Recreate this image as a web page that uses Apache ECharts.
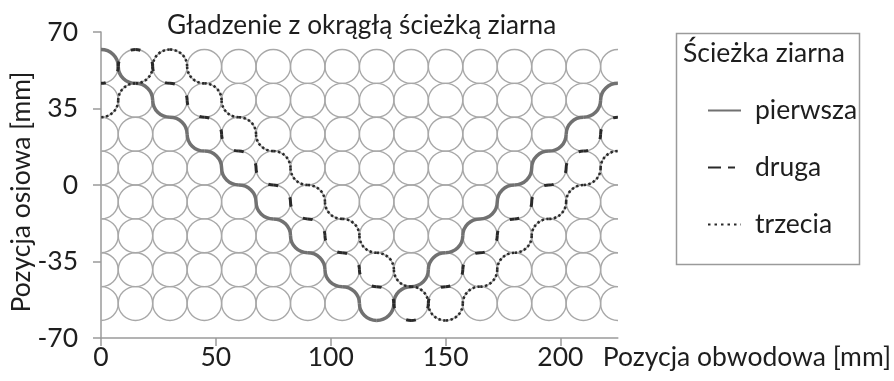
<!DOCTYPE html>
<html>
<head>
<meta charset="utf-8">
<script src="https://cdn.jsdelivr.net/npm/echarts@6/dist/echarts.min.js"></script>
<style>
html,body{margin:0;padding:0;background:#fff;}
#c{width:894px;height:381px;}
</style>
</head>
<body>
<div id="c"></div>
<script>
// ---- data ----
const xTicks = [0, 50, 100, 150, 200];
const yTicks = [-70, -35, 0, 35, 70];
const grainColumns = [0, 15, 30, 45, 60, 75, 90, 105, 120, 135, 150, 165, 180, 195, 210, 225];
const grainRows = [54.25, 38.75, 23.25, 7.75, -7.75, -23.25, -38.75, -54.25];
const grainRadiusX = 7.5;
const grainRadiusY = 7.75;

// each arc: [x of grain centre, y of grain centre, quarter of the grain]
const pathPierwsza = [
  [0, 54.25, 'UR'], [15, 54.25, 'LL'], [15, 38.75, 'UR'], [30, 38.75, 'LL'],
  [30, 23.25, 'UR'], [45, 23.25, 'LL'], [45, 7.75, 'UR'], [60, 7.75, 'LL'],
  [60, -7.75, 'UR'], [75, -7.75, 'LL'], [75, -23.25, 'UR'], [90, -23.25, 'LL'],
  [90, -38.75, 'UR'], [105, -38.75, 'LL'], [105, -54.25, 'UR'], [120, -54.25, 'LL'],
  [120, -54.25, 'LR'], [135, -54.25, 'UL'], [135, -38.75, 'LR'], [150, -38.75, 'UL'],
  [150, -23.25, 'LR'], [165, -23.25, 'UL'], [165, -7.75, 'LR'], [180, -7.75, 'UL'],
  [180, 7.75, 'LR'], [195, 7.75, 'UL'], [195, 23.25, 'LR'], [210, 23.25, 'UL'],
  [210, 38.75, 'LR'], [225, 38.75, 'UL']
];
const pathDruga = [
  [0, 54.25, 'LR'], [15, 54.25, 'UL'],
  [15, 54.25, 'UR'], [30, 54.25, 'LL'], [30, 38.75, 'UR'], [45, 38.75, 'LL'],
  [45, 23.25, 'UR'], [60, 23.25, 'LL'], [60, 7.75, 'UR'], [75, 7.75, 'LL'],
  [75, -7.75, 'UR'], [90, -7.75, 'LL'], [90, -23.25, 'UR'], [105, -23.25, 'LL'],
  [105, -38.75, 'UR'], [120, -38.75, 'LL'], [120, -54.25, 'UR'], [135, -54.25, 'LL'],
  [135, -54.25, 'LR'], [150, -54.25, 'UL'], [150, -38.75, 'LR'], [165, -38.75, 'UL'],
  [165, -23.25, 'LR'], [180, -23.25, 'UL'], [180, -7.75, 'LR'], [195, -7.75, 'UL'],
  [195, 7.75, 'LR'], [210, 7.75, 'UL'], [210, 23.25, 'LR'], [225, 23.25, 'UL']
];
const pathTrzecia = [
  [0, 38.75, 'LR'], [15, 38.75, 'UL'], [15, 54.25, 'LR'], [30, 54.25, 'UL'],
  [30, 54.25, 'UR'], [45, 54.25, 'LL'], [45, 38.75, 'UR'], [60, 38.75, 'LL'],
  [60, 23.25, 'UR'], [75, 23.25, 'LL'], [75, 7.75, 'UR'], [90, 7.75, 'LL'],
  [90, -7.75, 'UR'], [105, -7.75, 'LL'], [105, -23.25, 'UR'], [120, -23.25, 'LL'],
  [120, -38.75, 'UR'], [135, -38.75, 'LL'], [135, -54.25, 'UR'], [150, -54.25, 'LL'],
  [150, -54.25, 'LR'], [165, -54.25, 'UL'], [165, -38.75, 'LR'], [180, -38.75, 'UL'],
  [180, -23.25, 'LR'], [195, -23.25, 'UL'], [195, -7.75, 'LR'], [210, -7.75, 'UL'],
  [210, 7.75, 'LR'], [225, 7.75, 'UL']
];
const seriesNames = ['pierwsza', 'druga', 'trzecia'];

// ---- build ----
const FONT = 'Lato';
const FS = 26.5;
const TXT = '#1e1e1e';
const AXIS = '#9a9a9a';

const grainCenters = [];
grainColumns.forEach(function (x) { grainRows.forEach(function (y) { grainCenters.push([x, y]); }); });

function quarterPath(api, cx, cy, q) {
  const pts = {
    top: [cx, cy + grainRadiusY], right: [cx + grainRadiusX, cy],
    bottom: [cx, cy - grainRadiusY], left: [cx - grainRadiusX, cy]
  };
  const seg = { UR: ['top', 'right'], LR: ['right', 'bottom'], LL: ['bottom', 'left'], UL: ['left', 'top'] }[q];
  const a = api.coord(pts[seg[0]]);
  const b = api.coord(pts[seg[1]]);
  const s = api.size([grainRadiusX, grainRadiusY]);
  return { d: 'M' + a[0] + ' ' + a[1] + ' A' + s[0] + ' ' + s[1] + ' 0 0 1 ' + b[0] + ' ' + b[1], len: Math.PI / 2 * (s[0] + s[1]) / 2 };
}

function arcSeries(name, arr, styleFn) {
  return {
    type: 'custom', name: name + '-arcs', silent: true, clip: true, z: 5,
    data: arr.map(function (a) { return [a[0], a[1]]; }),
    renderItem: function (params, api) {
      const a = arr[params.dataIndex];
      const p = quarterPath(api, api.value(0), api.value(1), a[2]);
      return { type: 'path', shape: { pathData: p.d }, style: styleFn(p.len) };
    }
  };
}

const option = {
  backgroundColor: '#ffffff',
  animation: false,
  title: [{
    text: 'Gładzenie z okrągłą ścieżką ziarna',
    left: 162, top: 8,
    textStyle: { fontFamily: FONT, fontSize: 26.2, fontWeight: 'normal', color: TXT }
  }],
  grid: { left: 101, right: 274, top: 32, bottom: 43, containLabel: false },
  xAxis: {
    type: 'value', min: 0, max: 225,
    name: 'Pozycja obwodowa [mm]', nameLocation: 'end', nameGap: -15, nameMoveOverlap: false,
    nameTextStyle: { fontFamily: FONT, fontSize: FS, color: TXT, align: 'left', verticalAlign: 'top', padding: [6, 0, 0, 0] },
    axisLine: { onZero: false, lineStyle: { color: AXIS, width: 1.5 } },
    axisTick: { customValues: xTicks, length: 8, lineStyle: { color: AXIS, width: 1.5 } },
    axisLabel: { customValues: xTicks, fontFamily: FONT, fontSize: FS, color: TXT, margin: 6 },
    splitLine: { show: false }
  },
  yAxis: {
    type: 'value', min: -70, max: 70, interval: 35,
    name: 'Pozycja osiowa [mm]', nameLocation: 'middle', nameGap: 66, nameMoveOverlap: false,
    nameTextStyle: { fontFamily: FONT, fontSize: FS, color: TXT, padding: [0, 14, 0, 0] },
    axisLine: { onZero: false, lineStyle: { color: AXIS, width: 1.5 } },
    axisTick: { length: 8, lineStyle: { color: AXIS, width: 1.5 } },
    axisLabel: { fontFamily: FONT, fontSize: FS, color: TXT, margin: 23 },
    splitLine: { show: false }
  },
  legend: {
    orient: 'vertical', left: 702, top: 92,
    itemWidth: 33, itemHeight: 14, itemGap: 30,
    data: seriesNames,
    selectedMode: false,
    itemStyle: { opacity: 0 },
    textStyle: { fontFamily: FONT, fontSize: FS, color: TXT, padding: [0, 0, 0, 9] }
  },
  graphic: [
    { type: 'rect', left: 674, top: 31, shape: { width: 183, height: 231 }, style: { fill: 'none', stroke: AXIS, lineWidth: 1.5 }, silent: true },
    { type: 'text', left: 683, top: 40, style: { text: 'Ścieżka ziarna', fontFamily: FONT, fontSize: FS, fill: TXT }, silent: true }
  ],
  series: [
    {
      type: 'custom', name: 'ziarna', silent: true, clip: true, z: 2,
      data: grainCenters,
      renderItem: function (params, api) {
        const c = api.coord([api.value(0), api.value(1)]);
        const s = api.size([grainRadiusX, grainRadiusY]);
        return { type: 'ellipse', shape: { cx: c[0], cy: c[1], rx: s[0], ry: s[1] }, style: { fill: 'none', stroke: '#a8a8a8', lineWidth: 1.4 } };
      }
    },
    arcSeries('pierwsza', pathPierwsza, function () { return { fill: 'none', stroke: '#717171', lineWidth: 3.5 }; }),
    arcSeries('druga', pathDruga, function (L) { return { fill: 'none', stroke: '#2a2a2a', lineWidth: 3, lineDash: [5, L - 10, 5, 200] }; }),
    arcSeries('trzecia', pathTrzecia, function () { return { fill: 'none', stroke: '#2a2a2a', lineWidth: 2.6, lineDash: [2.4, 2.4] }; }),
    { type: 'line', name: 'pierwsza', data: [], symbol: 'none', color: '#717171', lineStyle: { color: '#717171', width: 3.4, type: 'solid' } },
    { type: 'line', name: 'druga', data: [], symbol: 'none', color: '#2a2a2a', lineStyle: { color: '#2a2a2a', width: 3.6, type: [13, 7, 7, 20] } },
    { type: 'line', name: 'trzecia', data: [], symbol: 'none', color: '#2a2a2a', lineStyle: { color: '#2a2a2a', width: 2.6, type: [2.5, 4] } }
  ]
};

const chart = echarts.init(document.getElementById('c'));
chart.setOption(option);
</script>
</body>
</html>
